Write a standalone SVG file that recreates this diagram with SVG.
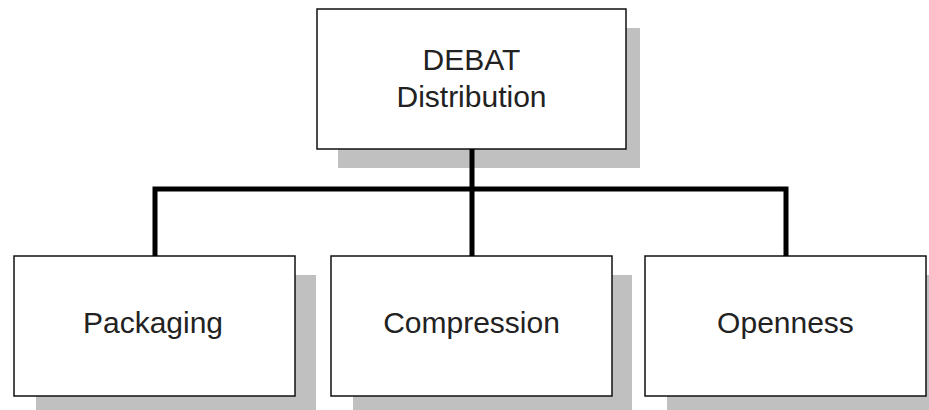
<svg xmlns="http://www.w3.org/2000/svg" width="929" height="410" viewBox="0 0 929 410">
<style>
.shadow{fill:#c0c0c0;stroke:none}
.box{fill:#fff;stroke:#111;stroke-width:1.5}
.lbl{font-family:"Liberation Sans",Arial,sans-serif;font-size:30px;fill:#222;text-anchor:middle}
.conn{fill:none;stroke:#000;stroke-width:5;stroke-linejoin:miter}
</style>
<rect width="929" height="410" fill="#fff"/>
<g id="node-debat">
<rect class="shadow" x="338" y="28" width="302" height="140"/>
<rect class="box" x="317" y="9" width="309" height="140"/>
<text class="lbl" x="471.5" y="70">DEBAT</text>
<text class="lbl" x="471.5" y="107">Distribution</text>
</g>
<g id="node-packaging">
<rect class="shadow" x="36" y="275" width="280" height="140"/>
<rect class="box" x="14" y="256" width="281" height="140"/>
<text class="lbl" x="153" y="333">Packaging</text>
</g>
<g id="node-compression">
<rect class="shadow" x="353" y="275" width="279" height="140"/>
<rect class="box" x="331" y="256" width="281" height="140"/>
<text class="lbl" x="471.5" y="333">Compression</text>
</g>
<g id="node-openness">
<rect class="shadow" x="667" y="275" width="270" height="140"/>
<rect class="box" x="645" y="256" width="281" height="140"/>
<text class="lbl" x="785.5" y="333">Openness</text>
</g>
<g id="connectors">
<path class="conn" d="M155,256 V189 H786 V256"/>
<path class="conn" d="M472,149 V256"/>
</g>
</svg>
